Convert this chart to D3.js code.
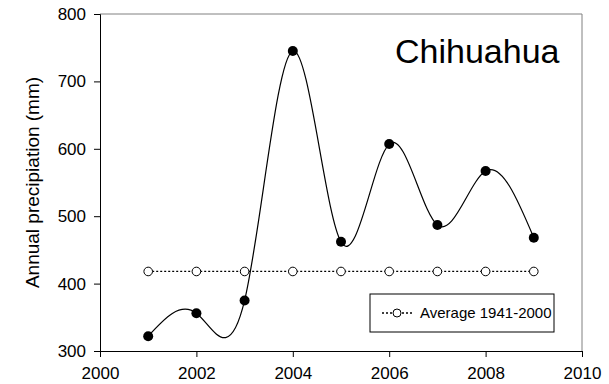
<!DOCTYPE html>
<html>
<head>
<meta charset="utf-8">
<script src="https://cdn.jsdelivr.net/npm/d3@7"></script>
<style>
  body { margin: 0; background: #fff; }
  text { font-family: "Liberation Sans", Arial, sans-serif; }
</style>
</head>
<body>
<div id="chart"></div>
<script>
// Chihuahua annual precipitation vs long-term average

const years = [2001, 2002, 2003, 2004, 2005, 2006, 2007, 2008, 2009];
const precip = [322, 356, 375, 745, 462, 607, 487, 567, 468];
const avgValue = 418;
const xTicks = [2000, 2002, 2004, 2006, 2008, 2010];
const yTicks = [300, 400, 500, 600, 700, 800];

const width = 609, height = 384;

const svg = d3.select("#chart")
    .append("svg")
    .attr("width", width)
    .attr("height", height);

const x = d3.scaleLinear().domain([2000, 2010]).range([100, 582]);
const y = d3.scaleLinear().domain([300, 800]).range([351, 14]);

const data = years.map((yr, i) => ({ year: yr, value: precip[i] }));

// Frame: top and right in grey
svg.append("line")
    .attr("x1", x(2000)).attr("x2", x(2010))
    .attr("y1", y(800)).attr("y2", y(800))
    .attr("stroke", "#808080");
svg.append("line")
    .attr("x1", x(2010)).attr("x2", x(2010))
    .attr("y1", y(800)).attr("y2", y(300))
    .attr("stroke", "#808080");

// Axes
const xAxis = svg.append("g")
    .attr("transform", `translate(0,${y(300)})`)
    .call(d3.axisBottom(x).tickValues(xTicks).tickFormat(d3.format("d")).tickSizeOuter(0).tickSize(6).tickPadding(10));
const yAxis = svg.append("g")
    .attr("transform", `translate(${x(2000)},0)`)
    .call(d3.axisLeft(y).tickValues(yTicks).tickSizeOuter(0).tickSize(6).tickPadding(8));

[xAxis, yAxis].forEach(a => {
    a.select(".domain").attr("stroke", "#000");
    a.selectAll(".tick line").attr("stroke", "#000");
    a.selectAll(".tick text")
        .attr("fill", "#000")
        .attr("font-size", "17px")
        .style("font-family", "'Liberation Sans', Arial, sans-serif");
});

// Y label
svg.append("text")
    .attr("transform", `translate(39,${(y(800) + y(300)) / 2}) rotate(-90)`)
    .attr("text-anchor", "middle")
    .attr("font-size", "19px")
    .attr("fill", "#000")
    .text("Annual precipiation (mm)");

// Title
svg.append("text")
    .attr("x", 395)
    .attr("y", 63)
    .attr("font-size", "34px")
    .attr("fill", "#000")
    .text("Chihuahua");

// Average line (dotted) with open circles
svg.append("line")
    .attr("x1", x(years[0])).attr("x2", x(years[years.length - 1]))
    .attr("y1", y(avgValue)).attr("y2", y(avgValue))
    .attr("stroke", "#000")
    .attr("stroke-width", 1.3)
    .attr("stroke-dasharray", "2,2");

svg.selectAll("circle.avg")
    .data(years)
    .enter()
    .append("circle")
    .attr("class", "avg")
    .attr("cx", d => x(d))
    .attr("cy", y(avgValue))
    .attr("r", 4.3)
    .attr("fill", "#fff")
    .attr("stroke", "#000")
    .attr("stroke-width", 1);

// Spline through annual values
const line = d3.line()
    .x(d => x(d.year))
    .y(d => y(d.value))
    .curve(d3.curveNatural);

svg.append("path")
    .datum(data)
    .attr("fill", "none")
    .attr("stroke", "#000")
    .attr("stroke-width", 1.2)
    .attr("d", line);

svg.selectAll("circle.obs")
    .data(data)
    .enter()
    .append("circle")
    .attr("class", "obs")
    .attr("cx", d => x(d.year))
    .attr("cy", d => y(d.value))
    .attr("r", 5)
    .attr("fill", "#000");

// Legend
const legend = svg.append("g");
legend.append("rect")
    .attr("x", 370).attr("y", 294)
    .attr("width", 184).attr("height", 38)
    .attr("fill", "#fff")
    .attr("stroke", "#000");
legend.append("line")
    .attr("x1", 382).attr("x2", 412)
    .attr("y1", 313).attr("y2", 313)
    .attr("stroke", "#000")
    .attr("stroke-width", 1.3)
    .attr("stroke-dasharray", "2,2");
legend.append("circle")
    .attr("cx", 397).attr("cy", 313)
    .attr("r", 4)
    .attr("fill", "#fff")
    .attr("stroke", "#000");
legend.append("text")
    .attr("x", 420).attr("y", 318)
    .attr("font-size", "15px")
    .attr("fill", "#000")
    .text("Average 1941-2000");
</script>
</body>
</html>
